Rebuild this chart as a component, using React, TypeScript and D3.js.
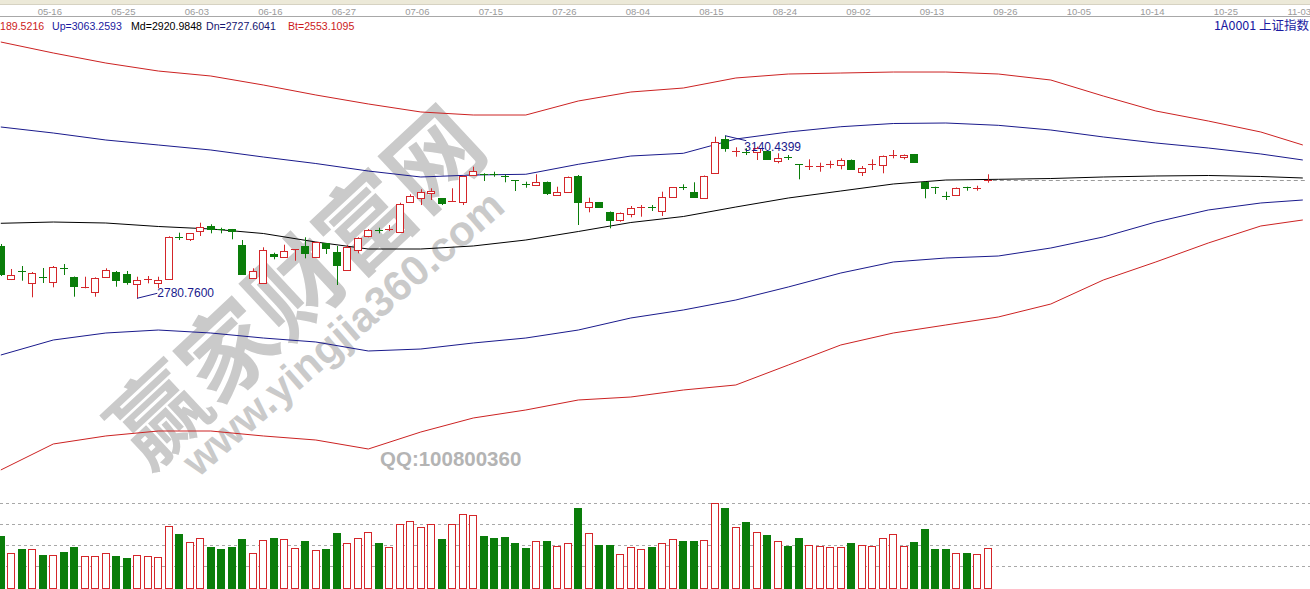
import * as d3 from 'd3';

const W = 1310;
const H = 589;

// x-axis tick labels and the bar index they sit on
const dateTicks = ['05-16', '05-25', '06-03', '06-16', '06-27', '07-06', '07-15', '07-26', '08-04',
    '08-15', '08-24', '09-02', '09-13', '09-26', '10-05', '10-14', '10-25', '11-03'];
const tickBars = [5, 12, 19, 26, 33, 40, 47, 54, 61, 68, 75, 82, 89, 96, 103, 110, 117, 124];

// daily candles (index 0 is the half-visible bar on the left edge)
const open = [
    2896.5, 2822.8, 2841.2, 2813.9, 2827.9, 2817.5, 2847.8, 2827.9, 2804.2, 2794.0,
    2827.2, 2838.3, 2833.9, 2813.1, 2822.8, 2815.3, 2822.8, 2916.4, 2912.6, 2930.3,
    2940.7, 2934.7, 2933.4, 2898.7, 2825.0, 2815.3, 2878.1, 2872.8, 2888.3, 2897.1,
    2872.8, 2902.4, 2882.5, 2843.4, 2887.6, 2919.2, 2931.8, 2933.4, 2927.4, 2994.4,
    3002.6, 3013.0, 3002.0, 2994.4, 2994.4, 3053.5, 3056.4, 3056.4, 3050.6, 3042.4,
    3033.6, 3030.7, 3038.7, 3009.9, 3016.6, 3050.6, 2982.7, 2993.1, 2972.3, 2954.0,
    2966.6, 2982.1, 2982.1, 2973.9, 3004.2, 3027.0, 3015.2, 3002.0, 3058.6, 3132.5,
    3104.4, 3104.4, 3103.7, 3107.3, 3085.1, 3092.7, 3077.8, 3071.2, 3071.2, 3077.2,
    3075.6, 3086.7, 3060.8, 3077.2, 3075.6, 3097.1, 3094.0, 3099.3, 3038.7, 3027.6,
    3007.7, 3008.6, 3027.6, 3023.2, 3041.8,
];
const high = [
    2900.9, 2845.6, 2852.2, 2838.9, 2847.8, 2852.2, 2856.6, 2829.0, 2828.5, 2827.2,
    2847.1, 2841.2, 2841.2, 2828.5, 2830.1, 2828.5, 2917.9, 2925.9, 2925.2, 2948.0,
    2944.5, 2936.9, 2934.1, 2909.7, 2847.1, 2893.6, 2881.6, 2899.3, 2889.8, 2915.7,
    2905.3, 2903.1, 2896.5, 2898.7, 2915.7, 2934.1, 2936.9, 2942.9, 2992.2, 3010.8,
    3021.9, 3024.1, 3002.6, 3024.1, 3052.4, 3071.9, 3057.3, 3060.8, 3055.1, 3042.4,
    3038.7, 3055.1, 3039.1, 3027.6, 3050.2, 3053.5, 3003.3, 2993.8, 2972.8, 2970.6,
    2984.9, 2987.1, 2987.1, 3016.6, 3027.0, 3032.9, 3037.4, 3052.4, 3138.2, 3140.4399,
    3114.8, 3112.6, 3116.1, 3108.8, 3101.5, 3097.7, 3077.8, 3088.2, 3080.7, 3085.1,
    3090.4, 3087.8, 3073.4, 3088.2, 3096.6, 3108.8, 3098.9, 3100.0, 3039.1, 3027.6,
    3016.6, 3025.9, 3027.6, 3029.8, 3055.1,
];
const low = [
    2830.1, 2821.2, 2819.7, 2783.0, 2814.6, 2805.1, 2832.3, 2784.3, 2802.9, 2784.3,
    2826.8, 2806.4, 2810.8, 2780.76, 2813.9, 2802.9, 2822.4, 2909.7, 2907.5, 2918.6,
    2924.5, 2924.5, 2911.3, 2832.3, 2823.5, 2814.6, 2867.0, 2872.1, 2863.9, 2869.2,
    2872.1, 2878.8, 2810.2, 2842.3, 2880.3, 2915.7, 2924.5, 2929.6, 2926.8, 2993.8,
    2987.1, 2998.2, 2987.1, 2993.8, 2987.1, 3052.8, 3040.2, 3049.7, 3037.4, 3018.1,
    3025.4, 3030.3, 3009.3, 3007.1, 3015.9, 2942.9, 2971.0, 2980.5, 2935.6, 2950.2,
    2959.9, 2961.3, 2973.9, 2962.8, 3003.7, 3020.3, 3004.8, 3001.5, 3057.9, 3105.0,
    3094.0, 3097.7, 3086.7, 3087.8, 3079.4, 3086.7, 3044.0, 3064.6, 3060.8, 3068.3,
    3066.1, 3065.7, 3051.3, 3064.6, 3057.3, 3090.4, 3088.2, 3081.2, 3002.0, 3011.5,
    2998.2, 3008.2, 3018.8, 3018.8, 3036.5,
];
const close = [
    2834.5, 2832.3, 2838.9, 2836.1, 2826.3, 2849.3, 2846.2, 2808.6, 2805.8, 2825.0,
    2843.4, 2821.2, 2816.8, 2820.6, 2824.1, 2821.2, 2915.7, 2914.8, 2924.5, 2937.8,
    2933.4, 2933.4, 2929.6, 2834.5, 2841.2, 2887.6, 2874.3, 2884.7, 2889.8, 2880.3,
    2904.6, 2892.7, 2854.4, 2894.9, 2913.5, 2931.8, 2930.3, 2934.7, 2988.7, 3006.4,
    3016.6, 3018.1, 2990.9, 2996.0, 3051.3, 3062.4, 3055.1, 3055.1, 3049.1, 3040.2,
    3032.0, 3038.7, 3014.4, 3016.6, 3049.7, 2994.4, 2994.4, 2982.1, 2954.0, 2970.1,
    2979.8, 2983.4, 2980.5, 3005.5, 3026.3, 3025.4, 3005.5, 3051.3, 3127.2, 3113.9,
    3105.9, 3102.8, 3112.6, 3088.2, 3091.8, 3091.1, 3076.3, 3072.7, 3072.7, 3078.5,
    3086.7, 3066.1, 3068.3, 3078.5, 3095.5, 3098.4, 3098.4, 3081.6, 3024.1, 3026.3,
    3006.4, 3025.4, 3026.3, 3024.7, 3043.1,
];
const volume = [
    1221, 810, 912, 912, 769, 769, 840, 960, 738, 738,
    810, 745, 698, 769, 738, 714, 1460, 1276, 1071, 1167,
    960, 912, 960, 1150, 810, 1119, 1174, 1143, 929, 1102,
    888, 912, 1293, 1055, 1167, 1310, 1062, 952, 1500, 1579,
    1436, 1507, 1150, 1500, 1738, 1714, 1221, 1174, 1198, 1055,
    936, 1095, 1095, 983, 1055, 1888, 1286, 1007, 1007, 793,
    952, 905, 960, 1055, 1143, 1102, 1102, 1119, 2000, 1888,
    1429, 1555, 1310, 1245, 1095, 990, 1174, 1000, 976, 952,
    952, 1055, 1000, 976, 1167, 1262, 976, 1079, 1388, 912,
    912, 810, 817, 786, 929,
];
const volumeGrid = [500, 1000, 1500, 2000];

// band lines, read every 5 bars (they run on past the last candle)
const bandBars = [0, 5, 10, 15, 20, 25, 30, 35, 40, 45, 50, 55, 60, 65, 70, 75, 80, 85, 90, 95, 100, 105, 110, 115, 120, 124];
const bandTp = [3347.7, 3323.4, 3301.2, 3283.5, 3272.5, 3252.6, 3230.5, 3210.6, 3192.9, 3186.2, 3186.2, 3217.2, 3237.1,
    3245.9, 3268.1, 3276.9, 3279.1, 3281.3, 3281.3, 3276.9, 3263.6, 3228.2, 3195.1, 3172.9, 3148.6, 3119.9];
const bandUp = [3159.7, 3146.4, 3130.9, 3119.9, 3108.8, 3093.3, 3078.9, 3062.3, 3049.1, 3053.5, 3055.1, 3077.2, 3095.5,
    3101.5, 3133.1, 3148.6, 3160.3, 3167.4, 3168.5, 3163.4, 3153.0, 3137.6, 3124.3, 3113.2, 3100.0, 3086.7];
const bandMd = [2946.7, 2949.5, 2947.3, 2939.6, 2934.1, 2924.1, 2905.3, 2889.8, 2889.8, 2896.5, 2909.7, 2928.5, 2948.4,
    2961.7, 2982.7, 3002.6, 3018.1, 3033.6, 3042.4, 3044.0, 3045.7, 3049.1, 3051.3, 3052.4, 3050.2, 3046.9];
const bandDn = [2655.3, 2688.5, 2704.0, 2710.6, 2704.0, 2692.9, 2684.1, 2664.2, 2668.6, 2681.9, 2692.9, 2710.6, 2737.2,
    2754.9, 2777.0, 2805.8, 2836.7, 2861.1, 2869.9, 2874.3, 2892.0, 2916.4, 2949.5, 2976.1, 2991.6, 2998.2];
const bandBt = [2401.0, 2458.5, 2476.2, 2487.2, 2487.2, 2476.2, 2467.3, 2447.4, 2485.0, 2516.0, 2533.7, 2555.8, 2562.4,
    2577.9, 2589.0, 2633.2, 2677.5, 2704.0, 2721.7, 2739.4, 2768.1, 2821.2, 2861.1, 2903.1, 2940.7, 2954.0];

// legend as shown (the first entry is clipped by the window edge in the source)
const legendLabels = ['189.5216', 'Up=3063.2593', 'Md=2920.9848', 'Dn=2727.6041', 'Bt=2553.1095'];

const RED = '#d4262a';
const GREEN = '#0a7d0a';
const NAVY = '#1a1a8c';
const bandColors = ['#cc2222', NAVY, '#000000', NAVY, '#cc2222'];
const legendColors = ['#cc1a1a', '#1a1aa0', '#000000', '#141470', '#cc1a1a'];
const legendX = [0, 52, 131, 206, 288];

const FONT = '"Liberation Sans", Arial, sans-serif';

function App() {
    const x = d3.scaleLinear().domain([0, 124]).range([0.8, 1302.8]);
    const y = d3.scaleLinear().domain([2780.76, 3140.44]).range([298.3, 135.7]);
    const yv = d3.scaleLinear().domain([0, 2000]).range([587.3, 503.3]);

    const bands = [bandTp, bandUp, bandMd, bandDn, bandBt];
    const bandLine = d3.line<number>()
        .x((_, k) => x(bandBars[k]))
        .y((v) => y(v));

    const lowIdx = d3.minIndex(low);
    const highIdx = d3.maxIndex(high);
    const last = close.length - 1;

    return (
        <svg width={W} height={H} style={{ position: 'absolute', left: 0, top: 0, background: '#fff' }}
            fontFamily={FONT}>
            <rect width={W} height={H} fill="#fff" />

            {/* watermark */}
            <g fill="#cacaca" fontWeight="bold">
                <text transform="translate(292,282) rotate(-43)" fontSize={94} textAnchor="middle"
                    dominantBaseline="central" fontFamily='"Noto Sans CJK SC", sans-serif'>赢家财富网</text>
                <text transform="translate(343,333) rotate(-41)" fontSize={42} textAnchor="middle"
                    dominantBaseline="central">www.yingjia360.com</text>
                <text x={380} y={466} fontSize={20.5} fill="#b4b4b4">QQ:100800360</text>
            </g>

            {/* top date strip */}
            <rect x={0} y={0} width={W} height={4} fill="#ece9d8" />
            <line x1={0} x2={W} y1={4.5} y2={4.5} stroke="#d6d2c2" />
            <line x1={0} x2={W} y1={16.5} y2={16.5} stroke="#a8a8a8" />
            {dateTicks.map((d, k) => (
                <text key={d} x={x(tickBars[k]) - 3.5} y={14.5} fontSize={9.5} fill="#9a9a9a" textAnchor="middle">{d}</text>
            ))}

            {/* legend */}
            {legendLabels.map((t, k) => (
                <text key={t} x={legendX[k]} y={30} fontSize={10.6} fill={legendColors[k]}>{t}</text>
            ))}
            <text x={1309} y={30} fontSize={12.5} fill="#1a1aa0" textAnchor="end"
                fontFamily='"Noto Sans CJK SC", sans-serif'>1A0001 上证指数</text>

            {/* bands */}
            {bands.map((b, k) => (
                <path key={k} d={bandLine(b) || ''} fill="none" stroke={bandColors[k]} strokeWidth={1} />
            ))}

            {/* last close reference */}
            <line x1={x(last) + 5} x2={1305} y1={Math.round(y(close[last])) + 0.5} y2={Math.round(y(close[last])) + 0.5}
                stroke="#9a9a9a" strokeDasharray="4,3" />

            {/* candles */}
            {close.map((c, i) => {
                const o = open[i];
                const left = Math.round(x(i) - 4);
                const cx = left + 4;
                const up = c >= o;
                const yo = y(o), yc = y(c);
                const top = Math.min(yo, yc), bot = Math.max(yo, yc);
                const yh = y(high[i]), yl = y(low[i]);
                const col = up ? RED : GREEN;
                const flat = bot - top < 1.5;
                return (
                    <g key={i}>
                        <rect x={cx} y={yh} width={1} height={Math.max(0, yl - yh)} fill={col} />
                        {flat ? (
                            <rect x={left} y={Math.round(top)} width={8} height={1} fill={col} />
                        ) : up ? (
                            <rect x={left + 0.5} y={Math.round(top) + 0.5} width={7} height={Math.round(bot) - Math.round(top)}
                                fill="#fff" stroke={col} />
                        ) : (
                            <rect x={left} y={Math.round(top)} width={8} height={Math.round(bot) - Math.round(top) + 1} fill={col} />
                        )}
                    </g>
                );
            })}

            {/* extreme markers */}
            <g stroke={NAVY} fill="none">
                <polyline points={`${Math.round(x(lowIdx))},${y(low[lowIdx])} ${x(lowIdx) + 20},${y(low[lowIdx]) - 5}`} />
                <polyline points={`${Math.round(x(highIdx))},${y(high[highIdx])} ${x(highIdx) + 21},${y(high[highIdx]) + 5}`} />
            </g>
            <text x={x(lowIdx) + 20} y={y(low[lowIdx]) - 1} fontSize={12} fill={NAVY}>{low[lowIdx].toFixed(4)}</text>
            <text x={x(highIdx) + 19} y={y(high[highIdx]) + 15} fontSize={12} fill={NAVY}>{high[highIdx].toFixed(4)}</text>

            {/* volume panel */}
            {volumeGrid.map((v) => (
                <line key={v} x1={0} x2={W} y1={Math.round(yv(v)) + 0.5} y2={Math.round(yv(v)) + 0.5}
                    stroke="#a8a8a8" strokeDasharray="3,3" />
            ))}
            {volume.map((v, i) => {
                const left = Math.round(x(i) - 4);
                const up = close[i] >= open[i];
                const top = Math.round(yv(v));
                return up ? (
                    <rect key={i} x={left + 0.5} y={top + 0.5} width={7} height={588 - top} fill="#fff" stroke={RED} />
                ) : (
                    <rect key={i} x={left} y={top} width={8} height={589 - top} fill={GREEN} />
                );
            })}
        </svg>
    );
}

export default App;
